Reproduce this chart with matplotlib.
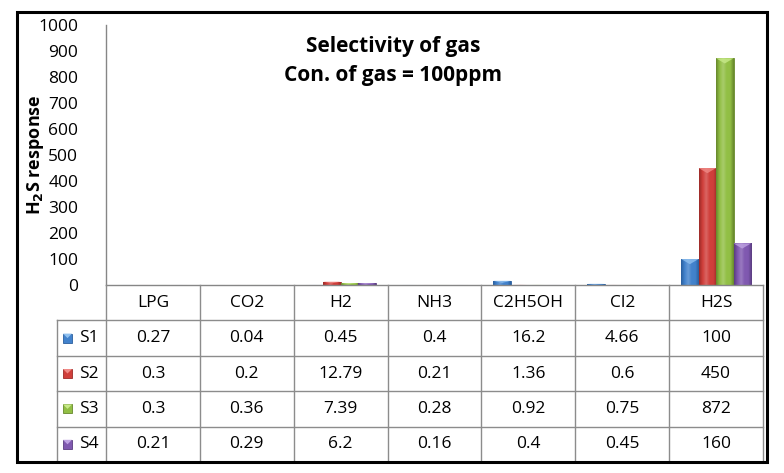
import numpy as np
import matplotlib
matplotlib.use('Agg')
import matplotlib.pyplot as plt
from matplotlib.patches import Rectangle, Polygon
from matplotlib.colors import LinearSegmentedColormap, to_rgb

plt.rcParams['font.family'] = ['Open Sans', 'DejaVu Sans']

gases = ['LPG', 'CO2', 'H2', 'NH3', 'C2H5OH', 'Cl2', 'H2S']
series = ['S1', 'S2', 'S3', 'S4']
s1 = [0.27, 0.04, 0.45, 0.4, 16.2, 4.66, 100]
s2 = [0.3, 0.2, 12.79, 0.21, 1.36, 0.6, 450]
s3 = [0.3, 0.36, 7.39, 0.28, 0.92, 0.75, 872]
s4 = [0.21, 0.29, 6.2, 0.16, 0.4, 0.45, 160]
cells = [['0.27', '0.04', '0.45', '0.4', '16.2', '4.66', '100'],
         ['0.3', '0.2', '12.79', '0.21', '1.36', '0.6', '450'],
         ['0.3', '0.36', '7.39', '0.28', '0.92', '0.75', '872'],
         ['0.21', '0.29', '6.2', '0.16', '0.4', '0.45', '160']]
colors = ['#4282cc', '#d03f3b', '#92bf45', '#8059b0']
darks = ['#2a5f9e', '#9c2b28', '#67882c', '#5a3c80']
lights = ['#8fc0ef', '#f08a86', '#c8ea8a', '#bfa3e3']


def shade(c, f):
    r = np.array(to_rgb(c))
    return tuple(r + (1 - r) * f)


W, H = 784, 473
fig = plt.figure(figsize=(W / 100, H / 100), dpi=100)


def fx(px):
    return px / W


def fy(py):
    return 1 - py / H


left, right = 106, 763
ax = fig.add_axes([fx(left), fy(285), fx(right - left), fy(25) - fy(285)])
tab = fig.add_axes([fx(left), fy(462), fx(right - left), fy(285) - fy(462)])

x = np.arange(len(gases))
bw = 0.186
data = [s1, s2, s3, s4]
grad = np.linspace(0, 1, 64).reshape(1, -1)
for i, vals in enumerate(data):
    bars = ax.bar(x + (i - 1.5) * bw, vals, bw, color=colors[i], edgecolor=darks[i], linewidth=0.6, zorder=2)
    cmap = LinearSegmentedColormap.from_list('b%d' % i, [darks[i], colors[i], shade(colors[i], 0.2),
                                                          colors[i], colors[i], darks[i]])
    for b in bars:
        x0, w, h = b.get_x(), b.get_width(), b.get_height()
        im = ax.imshow(grad, extent=[x0, x0 + w, 0, h], aspect='auto', cmap=cmap, zorder=2.1)
        im.set_clip_path(b)
        th = min(20, h * 0.5)
        ax.add_patch(Polygon([[x0, h], [x0 + w, h], [x0 + w / 2, h - th]], closed=True,
                             facecolor=lights[i], edgecolor='none', alpha=0.8, zorder=2.2))

ax.set_xlim(-0.5, len(gases) - 0.5)
ax.set_ylim(0, 1000)
ax.set_yticks(np.arange(0, 1001, 100))
ax.tick_params(axis='y', length=0, pad=20, labelsize=12.5)
ax.tick_params(axis='x', bottom=False, labelbottom=False)
for s in ['top', 'right']:
    ax.spines[s].set_visible(False)
for s in ['left', 'bottom']:
    ax.spines[s].set_color('#868686')
    ax.spines[s].set_linewidth(1)
    ax.spines[s].set_zorder(3)

fig.text(fx(35), fy(155), 'H$_\\mathbf{2}$S response', rotation=90, ha='center', va='center',
         fontsize=13, fontweight='bold')

ax.text(0.437, 0.862, 'Selectivity of gas\nCon. of gas = 100ppm', transform=ax.transAxes,
        ha='center', va='center', fontsize=15, fontweight='bold', linespacing=1.5)

# data table below the plot
tab.set_xlim(-0.5, len(gases) - 0.5)
tab.set_ylim(0, 5)
tab.axis('off')
lc = '#8c8c8c'
cw = (right - left) / len(gases)
legw = 49 / cw
xl = -0.5 - legw
for j in range(len(gases) + 1):
    tab.plot([j - 0.5, j - 0.5], [0, 5], color=lc, lw=1, clip_on=False)
tab.plot([xl, xl], [0, 4], color=lc, lw=1, clip_on=False)
for r in range(1, 5):
    tab.plot([xl, len(gases) - 0.5], [r, r], color=lc, lw=1, clip_on=False)
for j, g in enumerate(gases):
    tab.text(j, 4.5, g, ha='center', va='center', fontsize=12.5)
sq_w = 9 / cw
sq_h = 9 / 35.4
sx = xl + 6 / cw
for i, name in enumerate(series):
    yc = 3.5 - i
    tab.add_patch(Rectangle((sx, yc - sq_h / 2), sq_w, sq_h, facecolor=colors[i],
                            edgecolor=darks[i], lw=0.6, clip_on=False))
    tab.add_patch(Polygon([[sx, yc + sq_h / 2], [sx + sq_w, yc + sq_h / 2], [sx + sq_w / 2, yc]],
                          closed=True, facecolor=lights[i], edgecolor='none', clip_on=False))
    tab.text(xl + 22 / cw, yc, name, ha='left', va='center', fontsize=12.5)
    for j in range(len(gases)):
        tab.text(j, yc, cells[i][j], ha='center', va='center', fontsize=12.5)

fig.patches.append(Rectangle((fx(17), fy(462)), fx(767 - 17), fy(12) - fy(462),
                             transform=fig.transFigure, fill=False, edgecolor='black', lw=2.2))

fig.savefig('out.png', dpi=100)
